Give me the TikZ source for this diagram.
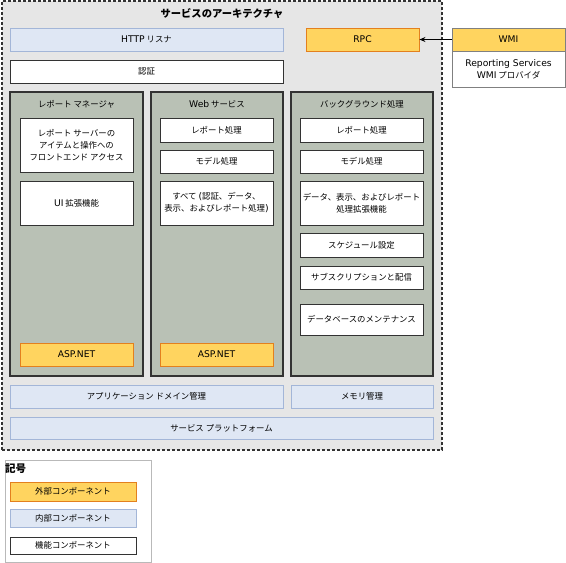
\documentclass[tikz,border=0pt]{standalone}
\usepackage{fontspec}
\setmainfont{Noto Sans CJK JP}
\newfontfamily\latf{DejaVu Sans}
\newcommand\lat[1]{{\latf\fontsize{9.2}{11}\selectfont #1}}
\usetikzlibrary{arrows.meta}
\definecolor{extf}{HTML}{FFD45F}
\definecolor{extb}{HTML}{E3801E}
\definecolor{intf}{HTML}{DFE7F4}
\definecolor{intb}{HTML}{A3B6D8}
\definecolor{colf}{HTML}{B9C1B5}
\definecolor{bgf}{HTML}{E6E6E6}
\definecolor{dk}{HTML}{333333}
\tikzset{
  base/.style={rectangle, inner sep=1pt, align=center, anchor=center, font=\fontsize{8.4}{12}\selectfont},
  extbox/.style={base, fill=extf, draw=extb, line width=0.9pt},
  intbox/.style={base, fill=intf, draw=intb, line width=0.9pt},
  funbox/.style={base, fill=white, draw=dk, line width=0.8pt},
  colbox/.style={rectangle, fill=colf, draw=dk, line width=1.3pt},
  coltitle/.style={font=\fontsize{8.4}{10}\selectfont, anchor=center},
  sz/.style 2 args={minimum width=#1pt, minimum height=#2pt}
}
\begin{document}
\begin{tikzpicture}[x=1pt,y=-1pt]
\useasboundingbox (0,0) rectangle (566,563);
% outer frame
\node[rectangle, fill=bgf, draw=dk, line width=1.2pt, dash pattern=on 3pt off 2pt, sz={440}{449}] (frame) at (222,225.5) {};
\node[font=\bfseries\fontsize{10.3}{12}\selectfont] (title) at (222,14) {サービスのアーキテクチャ};
\node[intbox, sz={273}{23}] (http) at (146.5,39.5) {\lat{HTTP} リスナ};
\node[funbox, sz={273}{23}] (auth) at (146.5,71.5) {認証};
\node[extbox, sz={113}{23}] (rpc) at (362.5,39.5) {\lat{RPC}};
\node[extbox, draw=gray, sz={113}{23}] (wmi) at (508.5,39.5) {\lat{WMI}};
\node[funbox, draw=gray, sz={113}{36}] (wmip) at (508.5,69) {\lat{Reporting Services}\\\lat{WMI} プロバイダ};
\draw[-{Stealth[length=6pt,width=5pt]}, line width=0.9pt, black] (wmi.west) -- (rpc.east);
% columns
\node[colbox, sz={133}{284}] (col1) at (76.5,234) {};
\node[colbox, sz={132}{284}] (col2) at (217,234) {};
\node[colbox, sz={142}{284}] (col3) at (362,234) {};
\node[coltitle] (t1) at (76.5,104) {レポート マネージャ};
\node[coltitle] (t2) at (217,104) {\lat{Web} サービス};
\node[coltitle] (t3) at (362,104) {バックグラウンド処理};
% report manager
\node[funbox, sz={113}{54}] (rm1) at (76.5,145) {レポート サーバーの\\アイテムと操作への\\フロントエンド アクセス};
\node[funbox, sz={113}{44}] (rm2) at (76.5,203) {\lat{UI} 拡張機能};
\node[extbox, sz={113}{23}] (asp1) at (76.5,354.5) {\lat{ASP.NET}};
% web service
\node[funbox, sz={113}{24}] (ws1) at (216.5,130) {レポート処理};
\node[funbox, sz={113}{23}] (ws2) at (216.5,161.5) {モデル処理};
\node[funbox, sz={113}{44}] (ws3) at (216.5,203) {すべて \lat{(}認証、データ、\\表示、およびレポート処理\lat{)}};
\node[extbox, sz={113}{23}] (asp2) at (216.5,354.5) {\lat{ASP.NET}};
% background
\node[funbox, sz={123}{24}] (bg1) at (361.5,130) {レポート処理};
\node[funbox, sz={123}{23}] (bg2) at (361.5,161.5) {モデル処理};
\node[funbox, sz={123}{44}] (bg3) at (361.5,203) {データ、表示、およびレポート\\処理拡張機能};
\node[funbox, sz={123}{24}] (bg4) at (361.5,245) {スケジュール設定};
\node[funbox, sz={123}{23}] (bg5) at (361.5,277.5) {サブスクリプションと配信};
\node[funbox, sz={123}{31}] (bg6) at (361.5,319.5) {データベースのメンテナンス};
% bottom
\node[intbox, sz={273}{23}] (adm) at (146.5,396.5) {アプリケーション ドメイン管理};
\node[intbox, sz={142}{23}] (mem) at (362,396.5) {メモリ管理};
\node[intbox, sz={423}{22}] (plat) at (221.5,428) {サービス プラットフォーム};
% legend
\node[rectangle, fill=white, draw=gray!55, line width=1.8pt, sz={146}{102}] (legend) at (78.5,511.5) {};
\node[font=\bfseries\fontsize{10.5}{12}\selectfont, anchor=west, inner sep=0pt] (lgt) at (5,469) {記号};
\node[extbox, sz={126}{19}] (lg1) at (73,491.5) {外部コンポーネント};
\node[intbox, sz={126}{18}] (lg2) at (73,518) {内部コンポーネント};
\node[funbox, sz={126}{17}] (lg3) at (73,545.5) {機能コンポーネント};
\end{tikzpicture}
\end{document}
